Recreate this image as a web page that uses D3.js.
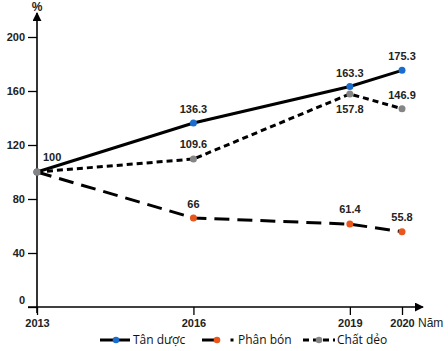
<!DOCTYPE html>
<html lang="vi">
<head>
<meta charset="UTF-8">
<title>Tốc độ tăng trưởng</title>
<script src="https://d3js.org/d3.v7.min.js"></script>
<style>
  body { margin: 0; background: #fff; }
  svg { display: block; }
  .tick text { font-family: "Liberation Sans", Arial, sans-serif; font-size: 11px; font-weight: bold; fill: #222; }
  .val { font-family: "Liberation Sans", Arial, sans-serif; font-size: 11px; font-weight: bold; fill: #222; }
  .legend text { font-family: "Open Sans", "DejaVu Sans", sans-serif; font-size: 12px; fill: #111; }
</style>
</head>
<body>
<div id="chart"></div>
<script>
// data
const years = [2013, 2016, 2019, 2020];
const tanDuoc = [100, 136.3, 163.3, 175.3];
const phanBon = [100, 66, 61.4, 55.8];
const chatDeo = [100, 109.6, 157.8, 146.9];
const yTicks = [0, 40, 80, 120, 160, 200];
const seriesNames = ["Tân dược", "Phân bón", "Chất dẻo"];

const W = 448, H = 351;
const svg = d3.select("#chart").append("svg").attr("width", W).attr("height", H);

const x = d3.scaleLinear().domain([2013, 2020]).range([37, 402]);
const y = d3.scaleLinear().domain([0, 200]).range([307, 37]);

// arrow head
svg.append("defs").append("marker")
  .attr("id", "arr").attr("viewBox", "0 0 10 10").attr("refX", 9).attr("refY", 5)
  .attr("markerWidth", 9).attr("markerHeight", 9).attr("markerUnits", "userSpaceOnUse")
  .attr("orient", "auto")
  .append("path").attr("d", "M0,0L10,5L0,10z").attr("fill", "#000");

// y axis
const yAx = svg.append("g").attr("transform", `translate(${x(2013)},0)`)
  .call(d3.axisLeft(y).tickValues(yTicks).tickSize(9).tickPadding(3));
yAx.select(".domain").remove();
yAx.selectAll(".tick line").attr("stroke", "#000").attr("stroke-width", 1.3);
yAx.selectAll(".tick").filter(d => d === 0).select("text").attr("dy", "-0.35em");

// x axis
const xAx = svg.append("g").attr("transform", `translate(0,${y(0)})`)
  .call(d3.axisBottom(x).tickValues(years).tickFormat(d3.format("d")).tickSize(8).tickPadding(4));
xAx.select(".domain").remove();
xAx.selectAll(".tick line").attr("stroke", "#000").attr("stroke-width", 1.3);

svg.append("line").attr("x1", x(2013)).attr("x2", x(2013))
  .attr("y1", y(0) + 6).attr("y2", 13)
  .attr("stroke", "#000").attr("stroke-width", 1.6).attr("marker-end", "url(#arr)");
svg.append("line").attr("x1", x(2013) - 9).attr("x2", 423)
  .attr("y1", y(0)).attr("y2", y(0))
  .attr("stroke", "#000").attr("stroke-width", 1.6).attr("marker-end", "url(#arr)");

svg.append("text").attr("class", "val").attr("x", x(2013)).attr("y", 11)
  .attr("text-anchor", "middle").style("font-size", "12px").text("%");
svg.append("text").attr("class", "val").attr("x", 418).attr("y", 327)
  .style("font-weight", "normal").style("font-size", "12px").text("Năm");

// series
const series = [
  { name: seriesNames[1], vals: phanBon, color: "#e8561c", dash: "15,8",
    off: [[0, 0], [0, -10], [0, -11], [0, -11]] },
  { name: seriesNames[0], vals: tanDuoc, color: "#1a6dcc", dash: null,
    off: [[0, 0], [0, -10], [0, -10], [0, -10]] },
  { name: seriesNames[2], vals: chatDeo, color: "#858585", dash: "6,4",
    off: [[0, 0], [0, -11], [0, 19], [0, -10]] }
];

const line = d3.line().x(d => x(d[0])).y(d => y(d[1]));

series.forEach(s => {
  const pts = years.map((yr, i) => [yr, s.vals[i]]);
  svg.append("path").datum(pts).attr("d", line)
    .attr("fill", "none").attr("stroke", "#000").attr("stroke-width", 3)
    .attr("stroke-dasharray", s.dash);
  svg.selectAll(null).data(pts).enter().append("circle")
    .attr("cx", d => x(d[0])).attr("cy", d => y(d[1])).attr("r", 3.5)
    .attr("fill", s.color);
  svg.selectAll(null).data(pts.slice(1)).enter().append("text")
    .attr("class", "val")
    .attr("x", (d, i) => x(d[0]) + s.off[i + 1][0])
    .attr("y", (d, i) => y(d[1]) + s.off[i + 1][1])
    .attr("text-anchor", "middle")
    .text(d => d[1]);
});

// start label
svg.append("text").attr("class", "val").attr("x", x(2013) + 6).attr("y", y(100) - 11)
  .text(tanDuoc[0]);

// legend
const lg = svg.append("g").attr("class", "legend").attr("transform", "translate(0,340)");
const legendItems = [
  { name: seriesNames[0], color: "#1a6dcc", x0: 100, len: 30, dot: 16, dash: null, tx: 133 },
  { name: seriesNames[1], color: "#e8561c", x0: 202, len: 16, dot: 15, dash: null, tx: 238 },
  { name: seriesNames[2], color: "#858585", x0: 303, len: 32, dot: 16, dash: "6,4", tx: 337 }
];
legendItems.forEach((it, i) => {
  lg.append("line").attr("x1", it.x0).attr("x2", it.x0 + it.len)
    .attr("stroke", "#000").attr("stroke-width", 3).attr("stroke-dasharray", it.dash);
  lg.append("circle").attr("cx", it.x0 + it.dot).attr("r", 3.3).attr("fill", it.color);
  if (i === 1) {
    lg.append("rect").attr("x", 230.5).attr("y", -1.5).attr("width", 3).attr("height", 3).attr("fill", "#000");
  }
  lg.append("text").attr("x", it.tx).attr("y", 4).text(it.name);
});
</script>
</body>
</html>
